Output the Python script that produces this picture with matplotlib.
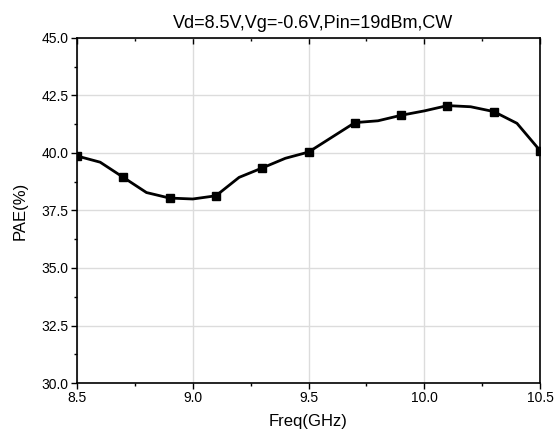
# PAE vs frequency, Vd=8.5V Vg=-0.6V Pin=19dBm CW

import matplotlib
matplotlib.use("Agg")
import matplotlib.pyplot as plt
from matplotlib.lines import TICKDOWN
from matplotlib.ticker import MultipleLocator, FormatStrFormatter

plt.rcParams["font.family"] = ["Liberation Sans", "DejaVu Sans"]

freq = [8.5, 8.6, 8.7, 8.8, 8.9, 9.0, 9.1, 9.2, 9.3, 9.4, 9.5,
        9.6, 9.7, 9.8, 9.9, 10.0, 10.1, 10.2, 10.3, 10.4, 10.5]
pae = [39.87, 39.60, 38.94, 38.28, 38.04, 38.00, 38.14, 38.94, 39.35, 39.77, 40.04,
       40.68, 41.32, 41.40, 41.64, 41.83, 42.06, 42.01, 41.80, 41.29, 40.10]

# markers only on every other point
mark_every = 2

fig = plt.figure(figsize=(5.6, 4.34), dpi=100)
ax = fig.add_axes([0.1375, 0.1175, 0.827, 0.795])

ax.plot(freq, pae, color="black", lw=2, marker="s", ms=5.5,
        markevery=mark_every, zorder=3)

ax.set_xlim(8.5, 10.5)
ax.set_ylim(30, 45)
ax.xaxis.set_major_locator(MultipleLocator(0.5))
ax.xaxis.set_minor_locator(MultipleLocator(0.25))
ax.yaxis.set_major_locator(MultipleLocator(2.5))
ax.yaxis.set_minor_locator(MultipleLocator(1.25))
ax.xaxis.set_major_formatter(FormatStrFormatter("%.1f"))
ax.yaxis.set_major_formatter(FormatStrFormatter("%.1f"))

ax.grid(True, which="major", color="#dcdcdc", lw=1)
ax.set_axisbelow(True)

ax.tick_params(axis="both", which="major", direction="out", length=4, width=1,
               labelsize=10, pad=2)
ax.tick_params(axis="both", which="minor", direction="out", length=2.5, width=1)
ax.tick_params(axis="x", which="both", top=True)

for s in ax.spines.values():
    s.set_linewidth(1.2)

ax.set_title("Vd=8.5V,Vg=-0.6V,Pin=19dBm,CW", fontsize=13, pad=7, x=0.51)
ax.set_xlabel("Freq(GHz)", fontsize=12, labelpad=6)
ax.set_ylabel("PAE(%)", fontsize=12, labelpad=10)

# top ticks point inward (bottom ones stay outward)
fig.canvas.draw()
for tick in ax.xaxis.get_major_ticks() + ax.xaxis.get_minor_ticks():
    tick.tick2line.set_marker(TICKDOWN)

fig.savefig("out.png", dpi=100)
